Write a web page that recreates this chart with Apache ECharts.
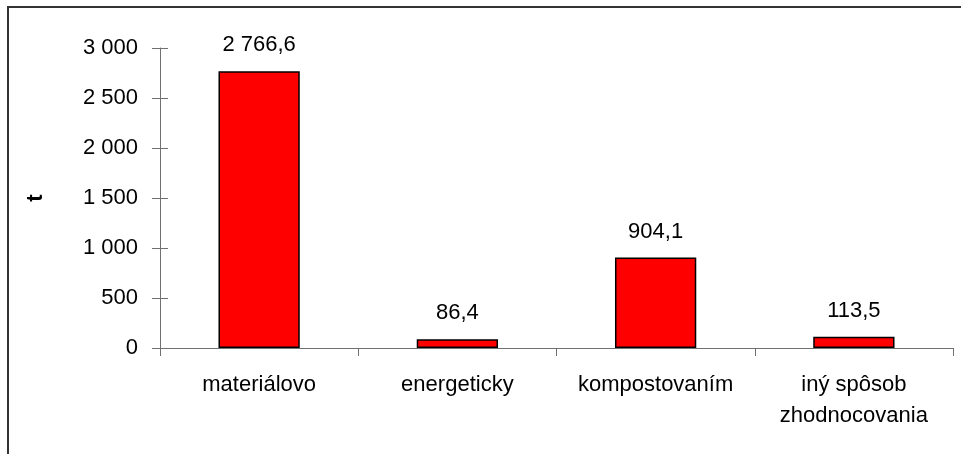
<!DOCTYPE html>
<html>
<head>
<meta charset="utf-8">
<script src="https://cdn.jsdelivr.net/npm/echarts@6/dist/echarts.min.js"></script>
<style>
html,body{margin:0;padding:0;background:#fff;}
#chart{width:961px;height:454px;}
</style>
</head>
<body>
<div id="chart"></div>
<script>
const categories = ['materiálovo', 'energeticky', 'kompostovaním', 'iný spôsob\nzhodnocovania'];
const values = [2766.6, 86.4, 904.1, 113.5];
const yTicks = [0, 500, 1000, 1500, 2000, 2500, 3000];
const yAxisName = 't';

const FONT = "'Liberation Sans', Arial, sans-serif";
function fmtThousands(v) {
  return String(v).replace(/\B(?=(\d{3})+(?!\d))/g, ' ');
}
function fmtValue(v) {
  const parts = v.toFixed(1).split('.');
  return fmtThousands(parts[0]) + ',' + parts[1];
}

const chart = echarts.init(document.getElementById('chart'), null, {renderer: 'canvas'});
const yMin = yTicks[0], yMax = yTicks[yTicks.length - 1], yInt = yTicks[1] - yTicks[0];
chart.setOption({
  animation: false,
  backgroundColor: '#ffffff',
  graphic: [{
    type: 'rect',
    shape: {x: 8, y: 7, width: 990, height: 480},
    style: {fill: 'none', stroke: '#333333', lineWidth: 2},
    silent: true,
    z: -1
  }],
  grid: {left: 160, right: 8, top: 48, bottom: 106, containLabel: false, outerBoundsMode: 'none'},
  xAxis: {
    type: 'category',
    data: categories,
    boundaryGap: true,
    axisLine: {show: true, lineStyle: {color: '#707070', width: 1}},
    axisTick: {show: true, length: 8, alignWithLabel: false, lineStyle: {color: '#707070'}},
    axisLabel: {
      interval: 0, margin: 21, color: '#000', fontFamily: FONT, fontSize: 22,
      lineHeight: 31, align: 'center'
    },
    splitLine: {show: false}
  },
  yAxis: [{
    type: 'value',
    position: 'left',
    min: yMin, max: yMax, interval: yInt,
    name: yAxisName,
    nameLocation: 'middle',
    nameGap: 113,
    nameRotate: 90,
    nameTextStyle: {color: '#000', fontFamily: FONT, fontSize: 22, fontWeight: 'bold'},
    axisLine: {show: true, lineStyle: {color: '#707070', width: 1}},
    axisTick: {show: true, length: 8, lineStyle: {color: '#707070'}},
    axisLabel: {
      margin: 22, color: '#000', fontFamily: FONT, fontSize: 22,
      formatter: v => fmtThousands(v)
    },
    splitLine: {show: false}
  }, {
    type: 'value',
    position: 'left',
    offset: 0,
    min: yMin, max: yMax, interval: yInt,
    axisLine: {show: false},
    axisTick: {show: true, inside: true, length: 8, lineStyle: {color: '#707070'}},
    axisLabel: {show: false},
    splitLine: {show: false}
  }],
  series: [{
    type: 'bar',
    data: values,
    barWidth: '41%',
    itemStyle: {color: '#ff0000', borderColor: '#000000', borderWidth: 1.5},
    label: {
      show: true, position: 'top', distance: 15,
      color: '#000', fontFamily: FONT, fontSize: 22,
      formatter: p => fmtValue(p.value)
    }
  }]
});
</script>
</body>
</html>
